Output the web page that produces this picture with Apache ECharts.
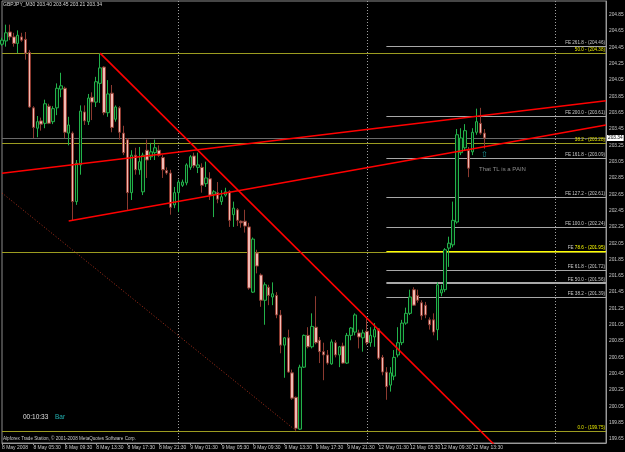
<!DOCTYPE html>
<html><head><meta charset="utf-8">
<script src="https://cdn.jsdelivr.net/npm/echarts/dist/echarts.min.js"></script>
<style>html,body{margin:0;padding:0;background:#000}#c{width:625px;height:452px}</style>
</head><body><div id="c"></div>
<script>
// ---- data (GBPJPY M30, 8 May 2008 01:30 .. 12 May 2008 15:00) ----
const opens = [
204.49,204.53,204.64,204.58,204.50,204.58,204.55,204.39,203.71,203.46,
203.55,203.52,203.73,203.54,203.71,203.94,203.95,203.40,203.40,202.56,
203.01,203.66,203.54,203.84,203.78,204.01,204.21,203.65,203.89,203.57,
203.71,203.40,203.32,202.67,203.13,202.95,202.68,203.19,203.11,203.16,
203.19,203.10,202.94,202.91,202.52,202.67,202.76,202.79,202.98,203.12,
202.98,202.98,202.78,202.84,202.65,202.67,202.56,202.64,202.68,202.40,
202.46,202.32,202.32,202.25,201.45,201.93,201.66,201.35,201.51,201.39,
201.41,201.17,200.80,200.89,200.46,200.16,199.77,200.53,200.92,200.78,
201.02,200.86,200.72,200.68,200.57,200.83,200.68,200.79,200.58,200.92,
200.96,200.95,200.89,200.97,200.83,200.90,201.00,200.65,200.47,200.31,
200.42,200.68,200.83,201.07,201.19,201.48,201.41,201.32,201.29,201.11,
201.11,200.99,201.44,201.48,201.99,202.03,202.31,203.16,203.22,203.19,
203.17,203.41,203.52,203.40];
const highs = [
204.57,204.73,204.73,204.63,204.66,204.63,204.64,204.42,203.73,203.61,
203.59,203.81,203.76,203.73,204.01,204.14,203.97,203.60,203.42,203.07,
203.74,203.74,203.88,203.90,204.09,204.38,204.22,204.05,203.99,203.74,
203.73,203.49,203.34,203.19,203.22,203.23,203.16,203.32,203.28,203.32,
203.25,203.13,202.98,202.95,202.74,202.83,202.83,203.03,203.13,203.16,
203.16,203.03,203.05,202.92,202.70,202.80,202.70,202.73,202.70,202.56,
202.48,202.33,202.46,202.30,202.12,201.97,201.68,201.57,201.54,201.57,
201.45,201.23,200.90,200.99,200.50,200.17,200.56,200.93,201.02,201.19,
201.40,200.90,200.83,200.74,200.87,200.86,200.79,200.83,200.95,201.02,
201.19,200.99,200.99,201.13,201.02,201.07,201.01,200.68,200.53,200.53,
200.74,201.02,201.11,201.26,201.48,201.51,201.48,201.35,201.33,201.14,
201.19,201.57,201.54,201.99,202.13,202.56,203.45,203.46,203.51,203.23,
203.46,203.70,203.71,203.45];
const lows = [
204.47,204.46,204.54,204.46,204.38,204.52,204.30,203.71,203.34,203.35,
203.43,203.46,203.51,203.51,203.62,203.84,203.34,203.25,202.33,202.52,
202.89,203.50,203.50,203.56,203.72,203.77,203.62,203.60,203.41,203.54,
203.32,203.13,202.46,202.58,202.89,202.89,202.64,202.85,203.07,203.07,
203.11,202.85,202.89,202.40,202.48,202.43,202.74,202.76,202.95,202.97,
202.91,202.67,202.74,202.58,202.37,202.54,202.52,202.62,202.25,202.25,
202.26,202.24,202.18,201.48,201.44,201.68,201.27,201.05,201.29,201.29,
201.13,200.70,200.40,200.46,200.13,199.75,199.76,200.52,200.76,200.76,
200.81,200.58,200.37,200.56,200.56,200.65,200.53,200.57,200.57,200.86,
200.92,200.76,200.72,200.80,200.78,200.78,200.62,200.43,200.13,200.23,
200.37,200.65,200.80,201.05,201.17,201.28,201.32,201.11,201.13,200.99,
200.92,200.86,201.40,201.45,201.76,202.00,202.29,203.13,203.19,202.86,
203.13,203.38,203.38,203.21];
const closes = [
204.54,204.63,204.58,204.50,204.60,204.54,204.38,203.72,203.47,203.54,
203.51,203.76,203.52,203.70,203.95,203.98,203.41,203.50,202.56,203.03,
203.67,203.55,203.83,203.78,204.03,204.20,203.65,203.88,203.47,203.72,
203.41,203.16,202.67,203.13,202.95,203.05,203.13,203.07,203.17,203.22,
203.13,202.95,202.91,202.49,202.67,202.80,202.80,203.01,203.11,203.00,
203.01,202.76,202.85,202.64,202.68,202.59,202.62,202.68,202.33,202.48,
202.33,202.30,202.26,201.50,202.10,201.77,201.35,201.54,201.41,201.43,
201.17,200.80,200.89,200.47,200.15,199.78,200.53,200.92,200.78,201.03,
200.83,200.72,200.68,200.58,200.84,200.68,200.78,200.58,200.92,201.01,
201.17,200.90,200.95,200.83,200.92,200.99,200.64,200.47,200.29,200.46,
200.65,200.83,201.07,201.19,201.39,201.29,201.35,201.16,201.17,201.05,
200.96,201.54,201.48,201.97,202.05,202.33,203.38,203.34,203.43,202.97,
203.41,203.54,203.40,203.34];

// x tick labels, one every 8 bars (4 hours)
const xTickLabels = ['8 May 2008','8 May 05:30','8 May 09:30','8 May 13:30','8 May 17:30','8 May 21:30',
  '9 May 01:30','9 May 05:30','9 May 09:30','9 May 13:30','9 May 17:30','9 May 21:30',
  '12 May 01:30','12 May 05:30','12 May 09:30','12 May 13:30'];
// trading sessions: [day, first half-hour slot, slot count]
const sessions = [['8 May',3,45],['9 May',0,48],['12 May',0,48],['13 May',0,14]];
const daySeparators = [45, 93, 141];

// trend lines: [bar index, price]
const trendDown   = [[25, 204.38], [130, 199.365]];
const trendUpper  = [[0, 202.907], [154, 203.797]];
const trendLower  = [[17, 202.322], [154, 203.499]];
const trendDotted = [[0, 202.666], [75, 199.75]];

// Fibonacci retracement levels
const retNames  = ['50.0','38.2','23.6','0.0'];
const retLevels = [204.38, 203.28, 201.94, 199.75];
// Fibonacci expansion levels
const feNames  = ['261.8','200.0','161.8','127.2','100.0','78.6','61.8','50.0','38.2'];
const feLevels = [204.46, 203.61, 203.09, 202.61, 202.24, 201.95, 201.72, 201.56, 201.39];
const feStartBar = 98;
const bidPrice = 203.34;
const symbolName = 'GBPJPY_M30';

// ---- build ----
const cats = [];
sessions.forEach(([d, s, n]) => {
  for (let k = 0; k < n; k++) {
    const m = (s + k) * 30;
    cats.push(d + ' ' + String(Math.floor(m / 60)).padStart(2, '0') + ':' + String(m % 60).padStart(2, '0'));
  }
});
const candleData = opens.map((o, i) => [o, closes[i], lows[i], highs[i]]);
const last = opens.length - 1;
const FONT = 'Liberation Sans';
const tickShown = i => i % 8 === 0 && i / 8 < xTickLabels.length;
const toLine = arr => arr.map(p => [cats[p[0]], p[1]]);

const markData = [];
retLevels.forEach((v, k) => {
  markData.push({
    yAxis: v,
    lineStyle: { color: '#9c9c20', width: 1, type: 'solid' },
    label: { show: k !== 2, position: 'insideEndTop', distance: 1, formatter: retNames[k] + ' - (' + v.toFixed(2) + ')',
      color: '#e6e600', fontSize: 4.6, fontFamily: FONT }
  });
});
feLevels.forEach((v, k) => {
  const isY = feNames[k] === '78.6';
  markData.push([
    { coord: [cats[feStartBar], v],
      lineStyle: { color: isY ? '#ffff00' : '#a8a8a8', width: feNames[k] === '50.0' ? 2 : 1, type: 'solid' },
      label: { show: true, position: 'insideEndTop', distance: 1, fontSize: 4.6, fontFamily: FONT, color: '#c8c8c8',
        formatter: isY ? '{g|FE }{y|' + feNames[k] + ' - (' + v.toFixed(2) + ')}' : 'FE ' + feNames[k] + ' - (' + v.toFixed(2) + ')',
        rich: { g: { color: '#c8c8c8', fontSize: 4.6, fontFamily: FONT }, y: { color: '#ffff00', fontSize: 4.6, fontFamily: FONT } } } },
    { coord: [cats[cats.length - 1], v] }
  ]);
});
markData.push({
  yAxis: bidPrice,
  lineStyle: { color: '#6a6a6a', width: 1, type: 'solid' },
  label: { show: true, position: 'end', distance: 1, formatter: bidPrice.toFixed(2), backgroundColor: '#ffffff',
    color: '#000000', fontSize: 4.8, fontFamily: FONT, padding: [1, 1, 0, 1] }
});
daySeparators.forEach(i => {
  markData.push({ xAxis: cats[i], lineStyle: { color: '#a0a0a0', width: 1, type: [1, 2] }, label: { show: false } });
});

const chart = echarts.init(document.getElementById('c'), null, { renderer: 'canvas' });
chart.setOption({
  backgroundColor: '#000000',
  animation: false,
  grid: { left: 2, right: 19, top: 1, bottom: 9, containLabel: false, outerBoundsMode: 'none',
    show: true, borderColor: '#8c8c8c', borderWidth: 1, backgroundColor: 'transparent' },
  xAxis: {
    type: 'category', data: cats, boundaryGap: false,
    axisLine: { show: true, lineStyle: { color: '#9a9a9a' } },
    axisTick: { show: true, interval: tickShown, length: 2, lineStyle: { color: '#9a9a9a' } },
    axisLabel: { show: true, interval: tickShown, hideOverlap: false, formatter: (v, i) => xTickLabels[i / 8],
      align: 'left', fontSize: 5, color: '#c8c8c8', fontFamily: FONT, margin: 2 },
    splitLine: { show: false }
  },
  yAxis: {
    type: 'value', position: 'right', min: 199.60, max: 205.02, interval: 0.05, scale: true,
    axisLine: { show: true, lineStyle: { color: '#9a9a9a' } },
    axisTick: { show: false }, splitLine: { show: false },
    axisLabel: { fontSize: 4.8, color: '#c8c8c8', fontFamily: FONT, margin: 3, hideOverlap: false,
      formatter: v => { const c = Math.round(v * 100); return (c % 20 === 5) ? (c / 100).toFixed(2) : ''; } }
  },
  series: [
    {
      type: 'candlestick', data: candleData, barWidth: 3, z: 3, silent: true,
      itemStyle: { color: '#001a08', color0: '#f2bab4', borderColor: '#22b24a', borderColor0: '#8c3a30', borderWidth: 1 },
      markLine: { silent: true, symbol: ['none', 'none'], animation: false, z: 2, data: markData }
    },
    { type: 'line', data: toLine(trendDown), symbol: 'none', clip: true, z: 5, silent: true, lineStyle: { color: '#ff0000', width: 1.6 } },
    { type: 'line', data: toLine(trendUpper), symbol: 'none', clip: true, z: 5, silent: true, lineStyle: { color: '#ff0000', width: 1.6 } },
    { type: 'line', data: toLine(trendLower), symbol: 'none', clip: true, z: 5, silent: true, lineStyle: { color: '#ff0000', width: 1.6 } },
    { type: 'line', data: toLine(trendDotted), symbol: 'none', clip: true, z: 4, silent: true, lineStyle: { color: '#a8301c', width: 1, type: [1, 2] } }
  ],
  graphic: [
    { type: 'text', left: 3, top: 2.5, silent: true,
      style: { text: symbolName + ' ' + [opens[last], highs[last], lows[last], closes[last]].map(v => v.toFixed(2)).join(' '),
        fill: '#d8d8d8', font: '5px "Liberation Sans"' } },
    { type: 'text', left: 479, top: 166, silent: true, style: { text: 'That TL is a PAIN', fill: '#8c8c8c', font: '6px "Liberation Sans"' } },
    { type: 'text', left: 481, top: 150.5, silent: true, style: { text: '\u21E7', fill: '#1e9a9a', font: '8px "DejaVu Sans"' } },
    { type: 'text', left: 23, top: 414, silent: true, style: { text: '00:10:33', fill: '#e0e0e0', font: '6.5px "Liberation Sans"' } },
    { type: 'text', left: 55, top: 414, silent: true, style: { text: 'Bar', fill: '#22b0b0', font: '6.5px "Liberation Sans"' } },
    { type: 'text', left: 3, top: 436.5, silent: true,
      style: { text: 'Alpforex Trade Station, \u00A9 2001-2008 MetaQuotes Software Corp.', fill: '#c8c8c8', font: '4.6px "Liberation Sans"' } }
  ]
});
</script>
</body></html>
